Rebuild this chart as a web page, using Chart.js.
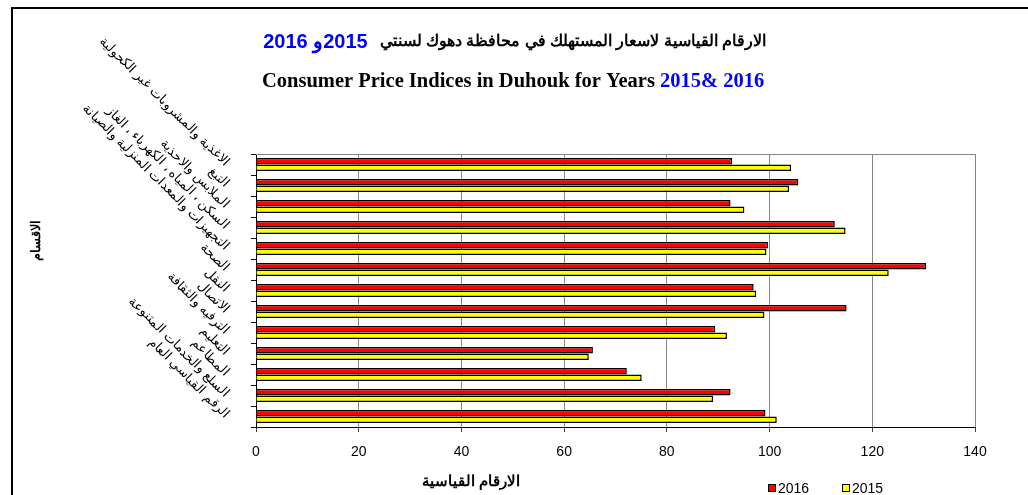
<!DOCTYPE html>
<html>
<head>
<meta charset="utf-8">
<script src="https://cdn.jsdelivr.net/npm/chart.js@4.4.1/dist/chart.umd.min.js"></script>
<style>
  html, body { margin: 0; padding: 0; background: #fff; }
</style>
</head>
<body>
<canvas id="canvas" width="1028" height="495"></canvas>
<script>
var categories = [
  'الاغذية والمشروبات غير الكحولية',
  'التبغ',
  'الملابس والاحذية',
  'السكن ، المياه ، الكهرباء ، الغاز',
  'التجهيزات والمعدات المنزلية والصيانة',
  'الصحة',
  'النقل',
  'الاتصال',
  'الترفيه والثقافة',
  'التعليم',
  'المطاعم',
  'السلع والخدمات المتنوعة',
  'الرقم القياسي العام'
];
var values2016 = [92.7, 105.6, 92.4, 112.7, 99.7, 130.5, 96.9, 115.0, 89.4, 65.6, 72.2, 92.4, 99.2];
var values2015 = [104.2, 103.8, 95.1, 114.8, 99.4, 123.2, 97.4, 99.0, 91.7, 64.8, 75.1, 89.0, 101.4];
var seriesNames = ['2016', '2015'];
var xMin = 0, xMax = 140, xStep = 20;

var titleAr = 'الارقام القياسية لاسعار المستهلك في محافظة دهوك لسنتي';
var titleArYears = '2015و 2016';
var titleEn = 'Consumer Price Indices in Duhouk for Years ';
var titleEnYears = '2015& 2016';
var xTitle = 'الارقام القياسية';
var yTitle = 'الاقسام';

var sans = '"Liberation Sans", Arial, sans-serif';
var serif = '"Liberation Serif", "Times New Roman", serif';

// titles, frame, axis titles and legend drawn on top
var decor = {
  id: 'decor',
  afterDraw: function(chart) {
    var ctx = chart.ctx;
    var a = chart.chartArea;
    ctx.save();

    // outer frame
    ctx.strokeStyle = '#000';
    ctx.lineWidth = 2;
    ctx.beginPath();
    ctx.moveTo(12, 495);
    ctx.lineTo(12, 8);
    ctx.lineTo(1028, 8);
    ctx.stroke();

    // top edge of plot
    ctx.strokeStyle = '#868686';
    ctx.lineWidth = 1;
    ctx.beginPath();
    ctx.moveTo(a.left, a.top + 0.5);
    ctx.lineTo(a.right, a.top + 0.5);
    ctx.stroke();

    // arabic title
    ctx.textBaseline = 'middle';
    ctx.font = 'bold 15.6px ' + sans;
    ctx.direction = 'rtl';
    ctx.textAlign = 'right';
    ctx.fillStyle = '#000';
    ctx.fillText(titleAr, 766, 42);
    var w = ctx.measureText(titleAr).width;
    ctx.font = 'bold 20px ' + sans;
    ctx.fillStyle = '#0000ff';
    ctx.fillText(titleArYears, 766 - w - 12, 42);

    // english title
    ctx.direction = 'ltr';
    ctx.textAlign = 'left';
    ctx.font = 'bold 20.5px ' + serif;
    ctx.fillStyle = '#000';
    ctx.fillText(titleEn, 262, 82);
    var w2 = ctx.measureText(titleEn).width;
    ctx.fillStyle = '#0000ff';
    ctx.fillText(titleEnYears, 262 + w2, 82);

    // x axis title
    ctx.fillStyle = '#000';
    ctx.font = 'bold 15px ' + sans;
    ctx.textAlign = 'center';
    ctx.fillText(xTitle, 471, 482);

    // y axis title
    ctx.save();
    ctx.translate(36, 240);
    ctx.rotate(-Math.PI / 2);
    ctx.font = 'bold 13px ' + sans;
    ctx.fillText(yTitle, 0, 0);
    ctx.restore();

    // legend
    ctx.font = '14px ' + sans;
    ctx.textAlign = 'left';
    var lx = [768, 842];
    chart.data.datasets.forEach(function(ds, i) {
      ctx.fillStyle = ds.backgroundColor;
      ctx.fillRect(lx[i], 484, 8, 8);
      ctx.strokeStyle = '#000';
      ctx.lineWidth = 1;
      ctx.strokeRect(lx[i] + 0.5, 484.5, 7, 7);
      ctx.fillStyle = '#000';
      ctx.fillText(ds.label, lx[i] + 10, 489);
    });

    ctx.restore();
  }
};

var ctxL = document.getElementById('canvas').getContext('2d');
var mychart = new Chart(ctxL, {
  type: 'bar',
  data: {
    labels: categories,
    datasets: [
      {
        label: seriesNames[0],
        data: values2016,
        backgroundColor: '#ff0000',
        borderColor: '#000',
        borderWidth: 1.5,
        categoryPercentage: 0.62,
        barPercentage: 1
      },
      {
        label: seriesNames[1],
        data: values2015,
        backgroundColor: '#ffff00',
        borderColor: '#000',
        borderWidth: 1.5,
        categoryPercentage: 0.62,
        barPercentage: 1
      }
    ]
  },
  options: {
    indexAxis: 'y',
    responsive: false,
    animation: false,
    layout: { padding: { top: 154, right: 53, left: 0, bottom: 0 } },
    plugins: {
      legend: { display: false },
      title: { display: false },
      tooltip: { enabled: false }
    },
    scales: {
      x: {
        min: xMin,
        max: xMax,
        ticks: {
          stepSize: xStep,
          color: '#000',
          padding: 12,
          font: { family: sans, size: 14 }
        },
        grid: { color: '#868686', tickColor: '#404040', tickLength: 5 },
        border: { color: '#000', width: 1 },
        afterFit: function(scale) {
          scale.height = 68;
          scale.paddingLeft = 0;
          scale.paddingRight = 0;
        }
      },
      y: {
        ticks: {
          color: '#000',
          minRotation: -45,
          maxRotation: -45,
          padding: 24,
          autoSkip: false,
          font: { family: sans, size: 13 }
        },
        grid: { drawOnChartArea: false, tickColor: '#000', tickLength: 5, offset: true },
        border: { color: '#000', width: 1 },
        afterFit: function(scale) {
          scale.width = 256;
          scale.paddingTop = 0;
          scale.paddingBottom = 0;
        }
      }
    }
  },
  plugins: [decor]
});
</script>
</body>
</html>
